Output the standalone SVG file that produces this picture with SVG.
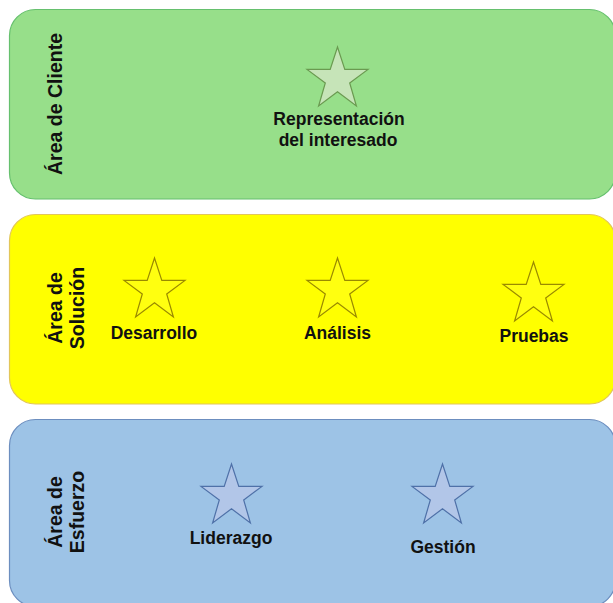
<svg xmlns="http://www.w3.org/2000/svg" width="613" height="603" viewBox="0 0 613 603">
  <defs>
    <!-- five-point star in a 61x59 box, origin at its top-left corner -->
    <path id="star" d="M0,22.4 L23.2,22.4 L30.5,0 L37.8,22.4 L61,22.4 L42.7,36 L49.4,59 L30.5,44.8 L11.6,59 L18.3,36 Z"/>
  </defs>
  <style>
    .lane { stroke-width: 1.2; }
    .green { fill: #97df8a; stroke: #66c06e; }
    .yellow { fill: #ffff00; stroke: #e2c65a; }
    .blue { fill: #9dc3e6; stroke: #6c8ebf; }
    .star-g { fill: #c6e4b8; stroke: #6a9a50; stroke-width: 1.2; }
    .star-y { fill: #ffff10; stroke: #9a8a00; stroke-width: 1.2; }
    .star-b { fill: #b2c6e8; stroke: #4f71a8; stroke-width: 1.2; }
    .label { font-family: "Liberation Sans", Arial, sans-serif; font-weight: bold; font-size: 17.5px; fill: #111111; text-anchor: middle; }
    .area { font-family: "Liberation Sans", Arial, sans-serif; font-weight: bold; font-size: 19.5px; fill: #111111; text-anchor: middle; }
  </style>

  <!-- customer lane -->
  <g id="lane-cliente">
    <rect class="lane green" x="9.5" y="9.5" width="606" height="189.5" rx="26" ry="26"/>
    <text class="area" transform="translate(62,104) rotate(-90)">Área de Cliente</text>
  </g>

  <!-- solution lane -->
  <g id="lane-solucion">
    <rect class="lane yellow" x="9.5" y="214.5" width="606" height="189.5" rx="26" ry="26"/>
    <text class="area" transform="translate(62,308) rotate(-90)">Área de</text>
    <text class="area" transform="translate(84,308) rotate(-90)">Solución</text>
  </g>

  <!-- effort lane -->
  <g id="lane-esfuerzo">
    <rect class="lane blue" x="9.5" y="419.5" width="606" height="187" rx="26" ry="26"/>
    <text class="area" transform="translate(62,512) rotate(-90)">Área de</text>
    <text class="area" transform="translate(84,512) rotate(-90)">Esfuerzo</text>
  </g>

  <g id="representacion">
    <use href="#star" class="star-g" transform="translate(307,47)"/>
    <text class="label" x="339" y="125">Representación</text>
    <text class="label" x="338" y="146">del interesado</text>
  </g>

  <g id="desarrollo">
    <use href="#star" class="star-y" transform="translate(124,258)"/>
    <text class="label" x="154" y="339">Desarrollo</text>
  </g>

  <g id="analisis">
    <use href="#star" class="star-y" transform="translate(307,258)"/>
    <text class="label" x="337.5" y="339">Análisis</text>
  </g>

  <g id="pruebas">
    <use href="#star" class="star-y" transform="translate(503,262)"/>
    <text class="label" x="534" y="342">Pruebas</text>
  </g>

  <g id="liderazgo">
    <use href="#star" class="star-b" transform="translate(201,464)"/>
    <text class="label" x="231" y="544">Liderazgo</text>
  </g>

  <g id="gestion">
    <use href="#star" class="star-b" transform="translate(412,464)"/>
    <text class="label" x="443" y="553">Gestión</text>
  </g>

  <!-- no connectors between the nodes -->
  <g id="connectors"/>
</svg>
